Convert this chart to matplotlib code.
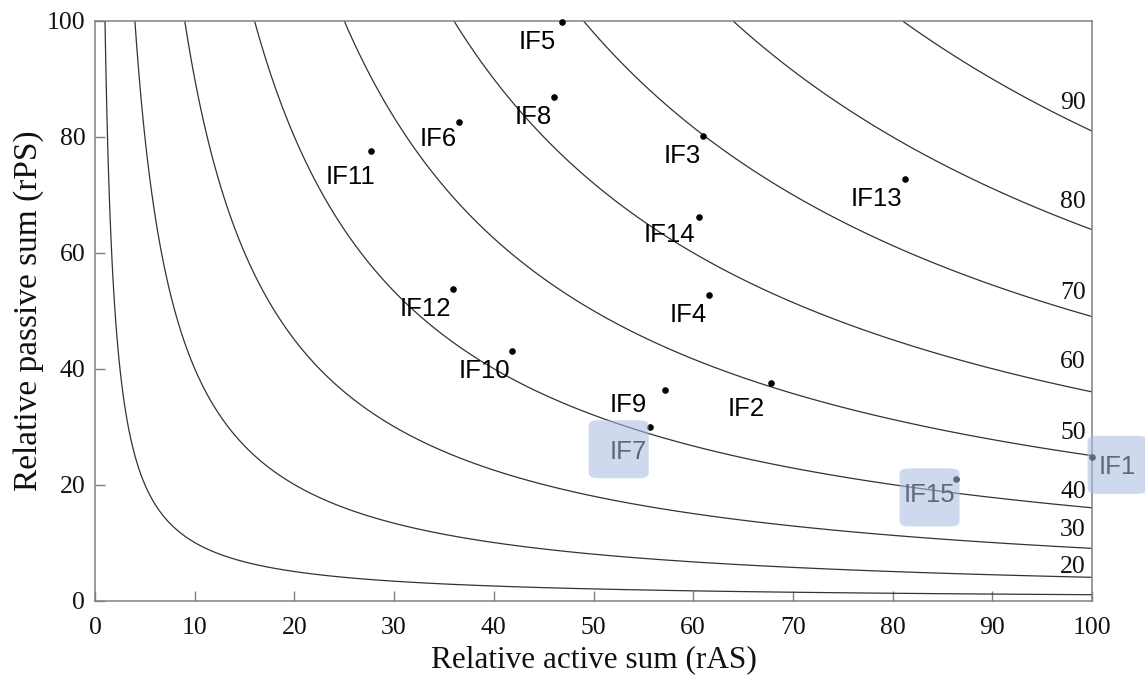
import numpy as np
import matplotlib
matplotlib.use("Agg")
import matplotlib.pyplot as plt
from matplotlib.patches import FancyBboxPatch

# iso-lines of sqrt(rAS * rPS)
levels = [10, 20, 30, 40, 50, 60, 70, 80, 90]
labelled_levels = [20, 30, 40, 50, 60, 70, 80, 90]

# points
names = ["IF1", "IF2", "IF3", "IF4", "IF5", "IF6", "IF7", "IF8",
         "IF9", "IF10", "IF11", "IF12", "IF13", "IF14", "IF15"]
ras = [100.0, 67.8, 61.0, 61.6, 46.8, 36.5, 55.7, 46.0,
       57.2, 41.8, 27.7, 35.9, 81.2, 60.6, 86.4]
rps = [24.8, 37.5, 80.1, 52.7, 99.8, 82.5, 29.9, 86.8,
       36.3, 43.0, 77.5, 53.7, 72.7, 66.1, 20.9]
highlighted = ["IF7", "IF15", "IF1"]

# label placement (pixels): default right/below the dot, a few exceptions
default_off = (-2, -8)
label_off = {"IF5": (-6, -8), "IF9": (-18, -3), "IF11": (4, -14),
             "IF2": (-6, -14), "IF7": (-3, -13), "IF15": (-1, -4),
             "IF6": (-2, -5), "IF14": (-4, -6)}
box_shift = {"IF7": (-10, 3), "IF15": (0, -2), "IF1": (0, 2)}
# baseline of level labels above the curve at x=100 (pixels)
level_lab_dy = [4.5, 12.5, 9.5, 17, 23.5, 17.5, 21.5, 22.5]

plt.rcParams["font.family"] = ["Liberation Serif", "DejaVu Serif"]

fig = plt.figure(figsize=(11.45, 6.81), dpi=100)
ax = fig.add_axes([0.0830, 0.1182, 0.8707, 0.8510])

x = np.linspace(0.05, 100, 900)
y = np.linspace(0.05, 100, 900)
X, Y = np.meshgrid(x, y)
Z = np.sqrt(X * Y)
ax.contour(X, Y, Z, levels=levels, colors="#333333", linewidths=0.9)

for v, dy in zip(labelled_levels, level_lab_dy):
    ax.annotate(str(v), xy=(100, v ** 2 / 100), xytext=(-6, dy),
                textcoords="offset pixels", ha="right", va="baseline",
                fontsize=18.5, color="#111111")

ax.scatter(ras, rps, s=14, color="black", zorder=5, clip_on=False)

texts = {}
for n, xv, yv in zip(names, ras, rps):
    if n == "IF1":
        t = ax.annotate(n, xy=(xv, yv), xytext=(7, 2), textcoords="offset pixels",
                        ha="left", va="top", fontsize=18.5, color="black",
                        family="Liberation Sans", annotation_clip=False)
    else:
        off = label_off.get(n, default_off)
        t = ax.annotate(n, xy=(xv, yv), xytext=off, textcoords="offset pixels",
                        ha="right", va="top", fontsize=18.5, color="black",
                        family="Liberation Sans")
    texts[n] = t

ax.set_xlim(0, 100)
ax.set_ylim(0, 100)
ax.set_xticks(np.arange(0, 101, 10))
ax.set_yticks(np.arange(0, 101, 20))
ax.tick_params(direction="in", length=7, width=1.0, color="#808080",
               labelsize=18.5, labelcolor="#111111")
ax.tick_params(axis="x", pad=12)
ax.tick_params(axis="y", pad=7)
for s in ax.spines.values():
    s.set_color("#808080")
    s.set_linewidth(1.1)

ax.set_xlabel("Relative active sum (rAS)", fontsize=22.5, color="#111111", labelpad=4)
ax.set_ylabel("Relative passive sum (rPS)", fontsize=24, color="#111111", labelpad=2)

# translucent highlight boxes over selected labels
fig.canvas.draw()
r = fig.canvas.get_renderer()
W, H = fig.bbox.width, fig.bbox.height
for n in highlighted:
    bb = texts[n].get_window_extent(r)
    sx, sy = box_shift.get(n, (0, 0))
    cx, cy = (bb.x0 + bb.x1) / 2 + sx, (bb.y0 + bb.y1) / 2 + sy
    bw, bh = 60, 58
    p = FancyBboxPatch(((cx - bw / 2) / W, (cy - bh / 2) / H), bw / W, bh / H,
                       boxstyle="round,pad=0,rounding_size=0.008",
                       transform=fig.transFigure, facecolor="#aabce0",
                       edgecolor="none", alpha=0.56, zorder=10)
    fig.add_artist(p)

fig.savefig("out.png", dpi=100)
